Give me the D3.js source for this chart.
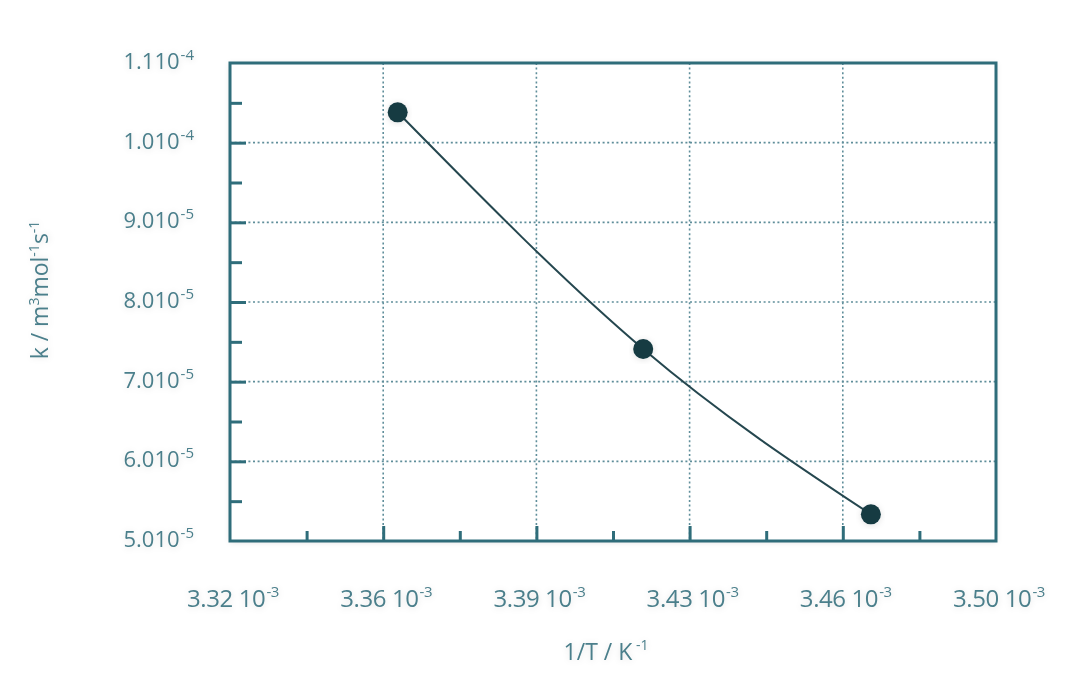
<!DOCTYPE html>
<html>
<head>
<meta charset="utf-8">
<script src="https://cdn.jsdelivr.net/npm/d3@7/dist/d3.min.js"></script>
<style>
  html, body { margin: 0; padding: 0; background: #ffffff; }
  svg { display: block; }
  text { font-family: "Open Sans", "Noto Sans", sans-serif; fill: #4b7f8b; }
</style>
</head>
<body>
<svg id="chart" width="1080" height="696"></svg>
<script>
// ---- data ----
const invT = [3.3594e-3, 3.4171e-3, 3.4706e-3];      // 1/T (K^-1)
const kValues = [1.0381e-4, 7.41e-5, 5.335e-5];      // k (m3 mol-1 s-1)

const xTickValues = [3.32e-3, 3.356e-3, 3.392e-3, 3.428e-3, 3.464e-3, 3.50e-3];
const xTickLabels = ["3.32", "3.36", "3.39", "3.43", "3.46", "3.50"];
const xTickExp = ["-3", "-3", "-3", "-3", "-3", "-3"];

const yTickValues = [5e-5, 6e-5, 7e-5, 8e-5, 9e-5, 1.0e-4, 1.1e-4];
const yTickLabels = ["5.0", "6.0", "7.0", "8.0", "9.0", "1.0", "1.1"];
const yTickExp = ["-5", "-5", "-5", "-5", "-5", "-4", "-4"];

// ---- layout ----
const svg = d3.select("#chart");
const pL = 230, pR = 996, pT = 63, pB = 541;
const frameColor = "#2f6d7a";
const gridColor = "#5f8e9a";

const x = d3.scaleLinear().domain([3.32e-3, 3.50e-3]).range([pL, pR]);
const y = d3.scaleLinear().domain([5e-5, 1.1e-4]).range([pB, pT]);

const defs = svg.append("defs");
const f = defs.append("filter").attr("id", "sh").attr("x", "-20%").attr("y", "-20%").attr("width", "140%").attr("height", "140%");
f.append("feDropShadow").attr("dx", 0).attr("dy", 1).attr("stdDeviation", 3)
  .attr("flood-color", "#000").attr("flood-opacity", 0.12);

// frame background
svg.append("rect").attr("x", pL).attr("y", pT)
  .attr("width", pR - pL).attr("height", pB - pT)
  .attr("fill", "#fff").attr("filter", "url(#sh)");

// gridlines
const innerX = xTickValues.slice(1, -1);
const innerY = yTickValues.slice(1, -1);
svg.append("g").selectAll("line").data(innerX).join("line")
  .attr("x1", d => x(d)).attr("x2", d => x(d))
  .attr("y1", pT).attr("y2", pB)
  .attr("stroke", gridColor).attr("stroke-width", 1.6)
  .attr("stroke-dasharray", "2,2.6");
svg.append("g").selectAll("line").data(innerY).join("line")
  .attr("x1", pL).attr("x2", pR)
  .attr("y1", d => y(d)).attr("y2", d => y(d))
  .attr("stroke", gridColor).attr("stroke-width", 1.6)
  .attr("stroke-dasharray", "2,2.6");

// minor / major ticks (inward) using d3 axes
const xMinor = d3.range(5).map(i => (xTickValues[i] + xTickValues[i + 1]) / 2);
const yMinor = d3.range(6).map(i => (yTickValues[i] + yTickValues[i + 1]) / 2);

const gx = svg.append("g").attr("transform", `translate(0,${pB})`)
  .call(d3.axisBottom(x).tickValues(innerX).tickSize(-15).tickFormat(""));
const gxm = svg.append("g").attr("transform", `translate(0,${pB})`)
  .call(d3.axisBottom(x).tickValues(xMinor).tickSize(-10).tickFormat(""));
const gy = svg.append("g").attr("transform", `translate(${pL},0)`)
  .call(d3.axisLeft(y).tickValues(innerY).tickSize(-16).tickFormat(""));
const gym = svg.append("g").attr("transform", `translate(${pL},0)`)
  .call(d3.axisLeft(y).tickValues(yMinor).tickSize(-12).tickFormat(""));
[gx, gxm, gy, gym].forEach(g => {
  g.select(".domain").remove();
  g.selectAll(".tick line").attr("stroke", frameColor).attr("stroke-width", 3);
});

// frame
svg.append("rect").attr("x", pL).attr("y", pT)
  .attr("width", pR - pL).attr("height", pB - pT)
  .attr("fill", "none").attr("stroke", frameColor).attr("stroke-width", 3);

// curve
const pts = invT.map((v, i) => [v, kValues[i]]);
const line = d3.line().x(d => x(d[0])).y(d => y(d[1])).curve(d3.curveNatural);
svg.append("path").datum(pts).attr("d", line)
  .attr("fill", "none").attr("stroke", "#25474f").attr("stroke-width", 2);

// points
svg.append("g").selectAll("circle").data(pts).join("circle")
  .attr("cx", d => x(d[0])).attr("cy", d => y(d[1])).attr("r", 10)
  .attr("fill", "#143a42").attr("filter", "url(#sh)");

// x tick labels
const xl = svg.append("g").selectAll("text").data(xTickValues).join("text")
  .attr("x", d => x(d) + 3).attr("y", 607)
  .attr("text-anchor", "middle").attr("font-size", 24).attr("letter-spacing", -0.4)
  .attr("filter", "url(#sh)");
xl.append("tspan").text((d, i) => xTickLabels[i] + " 10");
xl.append("tspan").attr("dy", -10).attr("dx", 1).attr("font-size", 15).text((d, i) => xTickExp[i]);

// y tick labels
const yl = svg.append("g").selectAll("text").data(yTickValues).join("text")
  .attr("x", 194).attr("y", d => y(d) + 6)
  .attr("text-anchor", "end").attr("font-size", 22)
  .attr("filter", "url(#sh)");
yl.append("tspan").text((d, i) => yTickLabels[i] + "10");
yl.append("tspan").attr("dy", -9).attr("dx", 1).attr("font-size", 15).text((d, i) => yTickExp[i]);

// x axis title
const xt = svg.append("text").attr("x", 606).attr("y", 660)
  .attr("text-anchor", "middle").attr("font-size", 23).attr("filter", "url(#sh)");
xt.append("tspan").text("1/T / K");
xt.append("tspan").attr("dy", -10).attr("font-size", 14).text(" -1");

// y axis title
const yt = svg.append("text")
  .attr("transform", "translate(48,290) rotate(-90)")
  .attr("text-anchor", "middle").attr("font-size", 23).attr("filter", "url(#sh)");
yt.append("tspan").text("k / m");
yt.append("tspan").attr("dy", -9).attr("font-size", 14).text("3");
yt.append("tspan").attr("dy", 9).text("mol");
yt.append("tspan").attr("dy", -9).attr("font-size", 14).text("-1");
yt.append("tspan").attr("dy", 9).text("s");
yt.append("tspan").attr("dy", -9).attr("font-size", 14).text("-1");
</script>
</body>
</html>
